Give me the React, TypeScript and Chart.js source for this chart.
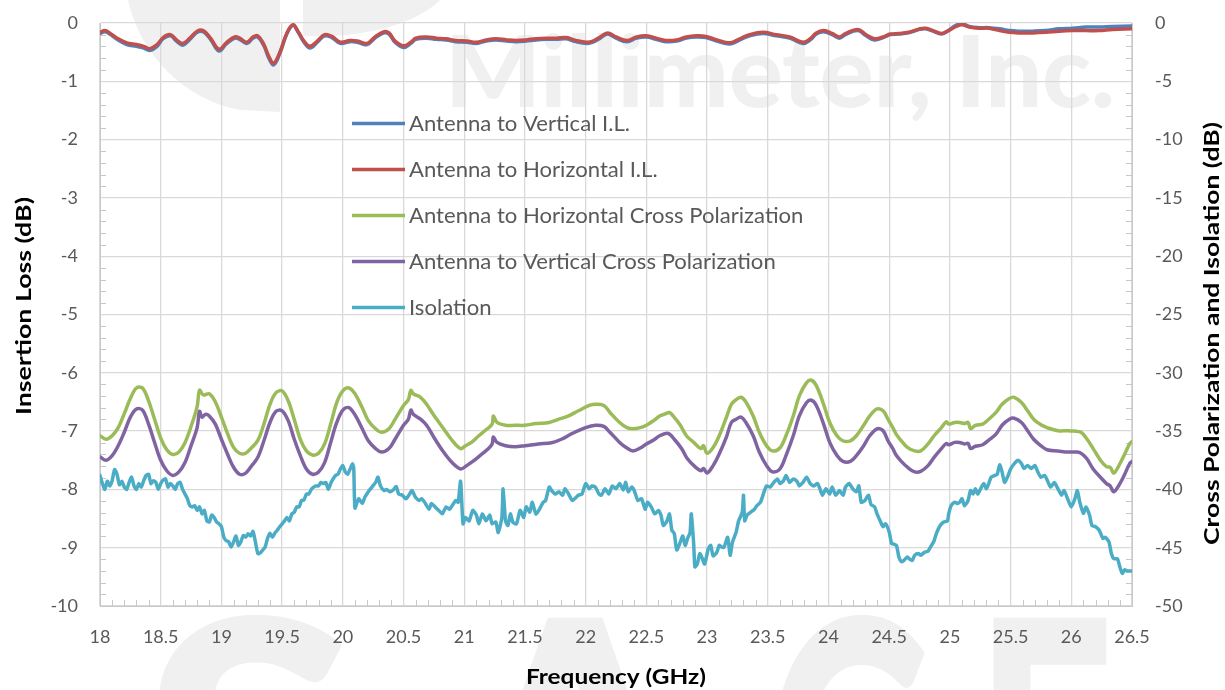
import React, { useEffect, useRef } from "react";
import { Chart, registerables } from "chart.js";

Chart.register(...registerables);

// ---------- DATA ----------
const seriesNames = [
  "Antenna to Vertical I.L.",
  "Antenna to Horizontal I.L.",
  "Antenna to Horizontal Cross Polarization",
  "Antenna to Vertical Cross Polarization",
  "Isolation",
];
const seriesColors = ["#4F81BD", "#C0504D", "#9BBB59", "#8064A2", "#4BACC6"];

// Insertion loss (left axis, dB)
const ilFreq = [
  18.0, 18.04, 18.08, 18.14, 18.22, 18.3, 18.36, 18.41, 18.47, 18.52, 18.58, 18.63, 18.68, 18.74, 18.8, 18.85, 18.91, 18.98,
  19.04, 19.11, 19.15, 19.21, 19.26, 19.3, 19.35, 19.39, 19.43, 19.48, 19.54, 19.59, 19.63, 19.68, 19.73, 19.79, 19.85, 19.91, 19.98,
  20.06, 20.12, 20.2, 20.27, 20.34, 20.38, 20.43, 20.5, 20.56, 20.6, 20.69, 20.77, 20.85, 20.93,
  21.02, 21.1, 21.18, 21.26, 21.35, 21.43, 21.51, 21.59, 21.68, 21.76, 21.84, 21.92,
  22.01, 22.06, 22.12, 22.18, 22.25, 22.34, 22.42, 22.5, 22.58, 22.66, 22.75, 22.83, 22.91, 22.99,
  23.08, 23.19, 23.27, 23.35, 23.46, 23.57, 23.68, 23.79, 23.85, 23.9, 23.96,
  24.03, 24.09, 24.14, 24.24, 24.31, 24.38, 24.45, 24.51, 24.58, 24.66, 24.75, 24.8, 24.86, 24.93, 24.98,
  25.05, 25.1, 25.16, 25.24, 25.32, 25.41, 25.49, 25.57, 25.68, 25.79, 25.9,
  26.01, 26.12, 26.23, 26.34, 26.5,
];
const ilVertical = [
  -0.18, -0.15, -0.19, -0.28, -0.37, -0.4, -0.43, -0.47, -0.4, -0.27, -0.22, -0.31, -0.38, -0.28, -0.16, -0.15, -0.28, -0.48,
  -0.36, -0.26, -0.28, -0.35, -0.26, -0.24, -0.39, -0.6, -0.72, -0.53, -0.18, -0.04, -0.15, -0.33, -0.43, -0.33, -0.22, -0.25, -0.35,
  -0.32, -0.33, -0.37, -0.25, -0.17, -0.19, -0.33, -0.42, -0.35, -0.28, -0.26, -0.28, -0.29, -0.32,
  -0.33, -0.35, -0.31, -0.29, -0.31, -0.32, -0.31, -0.29, -0.28, -0.28, -0.27, -0.32,
  -0.35, -0.33, -0.26, -0.19, -0.26, -0.32, -0.26, -0.24, -0.28, -0.32, -0.31, -0.26, -0.24, -0.25,
  -0.31, -0.36, -0.29, -0.22, -0.18, -0.22, -0.26, -0.35, -0.29, -0.19, -0.15,
  -0.2, -0.26, -0.2, -0.13, -0.22, -0.29, -0.25, -0.2, -0.19, -0.17, -0.11, -0.1, -0.14, -0.19, -0.14,
  -0.04, -0.01, -0.06, -0.08, -0.08, -0.1, -0.13, -0.14, -0.14, -0.13, -0.1,
  -0.09, -0.07, -0.07, -0.06, -0.05,
];
const ilHorizontal = [
  -0.16, -0.13, -0.17, -0.26, -0.34, -0.37, -0.4, -0.44, -0.37, -0.25, -0.2, -0.29, -0.35, -0.26, -0.14, -0.13, -0.26, -0.45,
  -0.34, -0.24, -0.26, -0.33, -0.24, -0.22, -0.37, -0.57, -0.69, -0.51, -0.17, -0.03, -0.14, -0.31, -0.4, -0.31, -0.2, -0.23, -0.33,
  -0.3, -0.31, -0.35, -0.23, -0.15, -0.17, -0.31, -0.39, -0.33, -0.26, -0.24, -0.26, -0.27, -0.3,
  -0.31, -0.33, -0.29, -0.27, -0.29, -0.3, -0.29, -0.27, -0.26, -0.26, -0.25, -0.3,
  -0.33, -0.31, -0.24, -0.17, -0.24, -0.3, -0.24, -0.22, -0.26, -0.3, -0.29, -0.24, -0.22, -0.23,
  -0.29, -0.34, -0.27, -0.2, -0.16, -0.2, -0.24, -0.33, -0.27, -0.17, -0.13,
  -0.18, -0.24, -0.18, -0.11, -0.2, -0.27, -0.24, -0.19, -0.18, -0.16, -0.1, -0.09, -0.13, -0.18, -0.14,
  -0.06, -0.03, -0.07, -0.09, -0.09, -0.13, -0.16, -0.17, -0.17, -0.16, -0.14,
  -0.13, -0.13, -0.13, -0.11, -0.1,
];

// Horizontal cross polarization (right axis, dB)
const xpolHFreq = [
  18.0, 18.05, 18.1, 18.15, 18.2, 18.25, 18.3, 18.35, 18.4, 18.45, 18.5, 18.55, 18.6, 18.65, 18.7, 18.75, 18.8, 18.82, 18.85, 18.9, 18.95,
  19.0, 19.05, 19.1, 19.15, 19.2, 19.25, 19.3, 19.35, 19.4, 19.45, 19.5, 19.55, 19.6, 19.65, 19.7, 19.75, 19.8, 19.85, 19.9, 19.95,
  20.0, 20.05, 20.1, 20.16, 20.21, 20.27, 20.32, 20.38, 20.43, 20.5, 20.54, 20.56, 20.58, 20.64, 20.69, 20.76, 20.83, 20.9, 20.97,
  21.01, 21.06, 21.12, 21.19, 21.23, 21.24, 21.27, 21.34, 21.42, 21.5, 21.59, 21.7, 21.78, 21.86, 21.94,
  22.03, 22.08, 22.15, 22.2, 22.28, 22.34, 22.39, 22.45, 22.5, 22.56, 22.61, 22.65, 22.69, 22.72, 22.78, 22.83, 22.89, 22.95, 22.97,
  23.0, 23.05, 23.1, 23.16, 23.2, 23.24, 23.28, 23.32, 23.38, 23.43, 23.49, 23.54, 23.6, 23.65, 23.71, 23.76, 23.82, 23.86, 23.9, 23.96,
  24.01, 24.07, 24.12, 24.18, 24.23, 24.29, 24.34, 24.4, 24.45, 24.49, 24.53, 24.56, 24.6, 24.65, 24.71, 24.76, 24.82, 24.87, 24.93, 24.97, 24.99,
  25.04, 25.08, 25.12, 25.15, 25.17, 25.21, 25.27, 25.32, 25.38, 25.43, 25.49, 25.53, 25.59, 25.64, 25.69, 25.75, 25.8, 25.89, 25.97,
  26.02, 26.08, 26.13, 26.18, 26.24, 26.29, 26.32, 26.35, 26.4, 26.44, 26.48, 26.5,
];
const xpolH = [
  -35.4, -35.7, -35.4, -34.7, -33.5, -32.2, -31.3, -31.3, -32.4, -34.0, -35.6, -36.6, -37.0, -36.8, -36.0, -34.6, -32.9, -31.5, -31.9, -31.8, -32.5,
  -33.8, -35.2, -36.4, -36.9, -36.9, -36.4, -35.8, -34.4, -32.7, -31.7, -31.55, -32.4, -34.0, -35.7, -36.7, -37.05, -36.9, -36.1, -34.4, -32.55,
  -31.55, -31.3, -31.8, -33.0, -34.1, -34.8, -35.1, -34.8, -34.0, -32.8, -32.3, -31.5, -31.8, -32.1, -32.7, -33.8, -34.8, -35.8, -36.5,
  -36.25, -35.97, -35.4, -34.8, -34.4, -33.7, -34.26, -34.5, -34.5, -34.5, -34.35, -34.26, -33.98, -33.7, -33.26,
  -32.8, -32.7, -32.8, -33.4, -34.26, -34.7, -34.8, -34.7, -34.5, -34.1, -33.7, -33.55, -33.4, -33.7, -34.5, -35.4, -35.97, -36.5, -36.25,
  -36.9, -36.4, -35.4, -33.8, -32.7, -32.3, -32.1, -32.5, -33.7, -35.1, -36.25, -36.7, -36.45, -35.4, -33.7, -31.98, -30.84, -30.64, -31.1, -32.7,
  -34.26, -35.4, -35.83, -35.83, -35.4, -34.5, -33.7, -33.1, -33.26, -33.98, -34.7, -35.3, -35.83, -36.4, -36.7, -36.7, -36.1, -35.4, -34.7, -34.2, -34.4,
  -34.26, -34.26, -34.35, -34.26, -34.8, -34.5, -34.4, -33.98, -33.4, -32.7, -32.2, -32.1, -32.55, -33.26, -33.98, -34.46, -34.7, -34.97, -34.97,
  -35.0, -35.1, -35.7, -36.5, -37.5, -38.05, -38.1, -38.6, -37.8, -36.97, -36.1, -35.9,
];

// Vertical cross polarization (right axis, dB)
const xpolVFreq = [
  18.0, 18.05, 18.1, 18.15, 18.2, 18.25, 18.3, 18.35, 18.4, 18.45, 18.5, 18.55, 18.6, 18.65, 18.7, 18.75, 18.8, 18.82, 18.84, 18.87, 18.9, 18.95,
  19.0, 19.05, 19.1, 19.15, 19.2, 19.25, 19.3, 19.35, 19.4, 19.45, 19.5, 19.55, 19.6, 19.65, 19.7, 19.75, 19.8, 19.85, 19.9, 19.95,
  20.0, 20.05, 20.1, 20.16, 20.21, 20.27, 20.32, 20.38, 20.43, 20.5, 20.54, 20.56, 20.58, 20.64, 20.69, 20.76, 20.83, 20.9, 20.97,
  21.02, 21.07, 21.13, 21.2, 21.23, 21.24, 21.27, 21.34, 21.42, 21.5, 21.61, 21.72, 21.8, 21.89,
  22.0, 22.08, 22.15, 22.2, 22.28, 22.34, 22.39, 22.45, 22.5, 22.56, 22.61, 22.68, 22.73, 22.79, 22.84, 22.9, 22.95, 22.97,
  23.0, 23.05, 23.1, 23.16, 23.2, 23.24, 23.28, 23.32, 23.38, 23.43, 23.49, 23.54, 23.6, 23.65, 23.71, 23.76, 23.82, 23.86, 23.9, 23.96,
  24.01, 24.07, 24.12, 24.18, 24.23, 24.29, 24.34, 24.4, 24.45, 24.49, 24.53, 24.56, 24.6, 24.65, 24.71, 24.76, 24.82, 24.87, 24.93, 24.97, 24.99,
  25.04, 25.08, 25.12, 25.15, 25.17, 25.21, 25.27, 25.32, 25.38, 25.43, 25.49, 25.53, 25.59, 25.64, 25.69, 25.75, 25.8, 25.89, 25.97,
  26.05, 26.09, 26.13, 26.18, 26.24, 26.29, 26.32, 26.35, 26.4, 26.44, 26.48, 26.5,
];
const xpolV = [
  -37.2, -37.5, -37.1, -36.25, -35.1, -33.8, -33.1, -33.2, -34.4, -36.0, -37.5, -38.4, -38.8, -38.5, -37.7, -36.25, -34.7, -33.3, -33.8, -33.55, -33.7, -34.4,
  -35.7, -36.97, -38.1, -38.7, -38.6, -37.96, -37.25, -35.83, -34.26, -33.3, -33.26, -34.1, -35.7, -37.1, -38.25, -38.7, -38.5, -37.7, -35.97, -34.26,
  -33.2, -32.98, -33.6, -34.8, -35.83, -36.5, -36.8, -36.5, -35.7, -34.5, -33.98, -33.2, -33.55, -33.98, -34.5, -35.7, -36.8, -37.7, -38.25,
  -37.96, -37.6, -37.1, -36.5, -36.1, -35.5, -35.97, -36.25, -36.34, -36.25, -36.1, -36.0, -35.7, -35.2,
  -34.7, -34.5, -34.6, -35.1, -35.97, -36.45, -36.7, -36.45, -36.1, -35.77, -35.4, -35.2, -35.7, -36.5, -37.4, -38.05, -38.4, -38.2,
  -38.6, -37.96, -36.97, -35.5, -34.26, -33.98, -33.8, -34.26, -35.4, -36.8, -37.96, -38.5, -38.25, -37.1, -35.4, -33.7, -32.55, -32.35, -32.8, -34.4,
  -35.97, -37.1, -37.6, -37.6, -37.1, -36.25, -35.4, -34.8, -34.97, -35.83, -36.5, -37.1, -37.6, -38.1, -38.5, -38.45, -37.96, -37.25, -36.5, -36.06, -36.17,
  -35.97, -35.97, -36.1, -36.06, -36.5, -36.3, -36.17, -35.77, -35.26, -34.5, -33.98, -33.9, -34.26, -34.97, -35.7, -36.25, -36.6, -36.7, -36.8,
  -36.8, -36.97, -37.4, -38.25, -38.96, -39.5, -39.7, -40.2, -39.5, -38.7, -37.8, -37.6,
];

// Isolation (right axis, dB)
const isoFreq = [
  18.0, 18.02, 18.04, 18.06, 18.08, 18.1, 18.12, 18.14, 18.16, 18.18, 18.2, 18.22, 18.24, 18.26, 18.28, 18.3, 18.32, 18.34, 18.36, 18.38,
  18.4, 18.42, 18.44, 18.46, 18.48, 18.5, 18.52, 18.54, 18.56, 18.58, 18.6, 18.62, 18.64, 18.66, 18.68, 18.7, 18.72, 18.74, 18.76, 18.78,
  18.8, 18.82, 18.84, 18.86, 18.88, 18.9, 18.92, 18.94, 18.96, 18.98, 19.0, 19.02, 19.04, 19.06, 19.08, 19.1, 19.12, 19.14, 19.16, 19.18,
  19.2, 19.22, 19.24, 19.26, 19.28, 19.3, 19.32, 19.34, 19.36, 19.38, 19.4, 19.42, 19.44, 19.46, 19.48, 19.5, 19.52, 19.54, 19.56, 19.58,
  19.6, 19.62, 19.64, 19.66, 19.68, 19.7, 19.72, 19.74, 19.76, 19.78, 19.8, 19.82, 19.84, 19.86, 19.88, 19.9, 19.92, 19.94, 19.96, 19.98,
  20.0, 20.02, 20.04, 20.06, 20.08, 20.09, 20.1, 20.13, 20.16, 20.18, 20.21, 20.24, 20.27, 20.29, 20.31, 20.34, 20.36, 20.39, 20.42, 20.44, 20.46, 20.49,
  20.52, 20.55, 20.57, 20.6, 20.63, 20.65, 20.68, 20.71, 20.73, 20.76, 20.79, 20.82, 20.85, 20.88, 20.9, 20.93, 20.95, 20.97, 20.99,
  21.01, 21.04, 21.07, 21.1, 21.12, 21.15, 21.18, 21.21, 21.23, 21.26, 21.28, 21.31, 21.32, 21.34, 21.36, 21.38, 21.4, 21.43, 21.46, 21.49,
  21.51, 21.54, 21.56, 21.59, 21.62, 21.65, 21.67, 21.7, 21.72, 21.75, 21.78, 21.81, 21.83, 21.86, 21.89, 21.92, 21.94, 21.97,
  22.0, 22.03, 22.05, 22.08, 22.11, 22.13, 22.16, 22.19, 22.22, 22.25, 22.28, 22.31, 22.33, 22.35, 22.38, 22.4, 22.43, 22.46, 22.49,
  22.51, 22.54, 22.57, 22.6, 22.62, 22.64, 22.67, 22.69, 22.71, 22.73, 22.75, 22.78, 22.8, 22.82, 22.84, 22.86, 22.87, 22.89, 22.9, 22.92, 22.94, 22.96, 22.98,
  23.01, 23.03, 23.05, 23.08, 23.1, 23.12, 23.14, 23.17, 23.19, 23.21, 23.24, 23.26, 23.29, 23.3, 23.31, 23.33, 23.36, 23.39, 23.41, 23.44, 23.47, 23.49,
  23.52, 23.55, 23.58, 23.6, 23.63, 23.65, 23.68, 23.71, 23.74, 23.76, 23.79, 23.82, 23.85, 23.88, 23.91, 23.93, 23.95, 23.98,
  24.01, 24.03, 24.06, 24.09, 24.12, 24.14, 24.17, 24.2, 24.23, 24.25, 24.27, 24.3, 24.33, 24.35, 24.38, 24.4, 24.43, 24.45, 24.47,
  24.5, 24.52, 24.54, 24.56, 24.58, 24.6, 24.62, 24.65, 24.67, 24.69, 24.71, 24.74, 24.76, 24.79, 24.82, 24.84, 24.87, 24.89, 24.92, 24.95, 24.98, 24.99,
  25.01, 25.04, 25.06, 25.08, 25.1, 25.12, 25.15, 25.17, 25.19, 25.21, 25.23, 25.26, 25.28, 25.3, 25.32, 25.34, 25.37, 25.39, 25.41, 25.43, 25.45, 25.48,
  25.5, 25.53, 25.56, 25.59, 25.61, 25.64, 25.67, 25.7, 25.72, 25.75, 25.78, 25.81, 25.83, 25.86, 25.89, 25.92, 25.94, 25.97,
  26.0, 26.03, 26.05, 26.07, 26.1, 26.12, 26.15, 26.17, 26.2, 26.23, 26.26, 26.28, 26.31, 26.33, 26.35, 26.38, 26.4, 26.42, 26.44, 26.46, 26.5,
];
const isoDb = [
  -38.8, -39.5, -40.0, -39.3, -39.7, -39.25, -38.3, -38.7, -39.6, -39.3, -39.8, -40.0, -39.4, -38.95, -39.7, -40.0, -39.5, -39.8, -39.25, -38.8,
  -38.7, -39.5, -39.25, -39.4, -40.0, -39.5, -39.2, -39.1, -39.8, -39.5, -39.7, -40.0, -39.5, -39.4, -40.0, -40.4, -40.8, -41.4, -41.5, -41.4,
  -41.8, -41.5, -42.1, -41.8, -42.7, -42.8, -42.2, -42.4, -42.8, -42.95, -43.2, -44.1, -44.4, -44.5, -44.95, -44.5, -44.0, -44.8, -44.5, -43.95,
  -44.1, -43.8, -44.0, -43.6, -44.5, -45.5, -45.45, -45.2, -44.95, -44.2, -43.75, -44.1, -43.75, -43.5, -43.2, -42.95, -42.7, -42.4, -42.7, -42.1,
  -41.95, -41.5, -41.5, -40.95, -40.9, -40.4, -40.4, -40.0, -39.8, -39.7, -39.7, -39.4, -39.5, -39.4, -40.0, -39.5, -39.1, -38.8, -38.7, -38.25,
  -37.95, -38.5, -38.7, -38.25, -37.8, -38.2, -41.6, -40.8, -41.2, -40.7, -40.2, -39.8, -39.4, -38.95, -39.7, -40.1, -40.0, -40.2, -40.0, -39.75, -40.4, -40.5,
  -40.8, -40.4, -40.1, -40.7, -40.95, -40.8, -41.2, -41.7, -41.2, -41.5, -41.8, -42.1, -41.5, -41.7, -41.4, -40.95, -41.1, -39.3, -42.95,
  -42.4, -42.7, -41.8, -42.2, -42.95, -42.1, -42.7, -42.2, -42.95, -42.8, -43.7, -42.4, -39.95, -42.7, -43.1, -42.1, -42.8, -42.95, -41.8, -42.4,
  -41.5, -41.95, -41.1, -42.1, -41.7, -41.1, -40.95, -39.8, -40.1, -40.4, -40.2, -40.5, -39.95, -40.4, -40.95, -40.7, -40.5, -40.4,
  -39.5, -39.95, -39.7, -39.8, -40.4, -40.5, -39.95, -40.4, -39.7, -39.95, -39.5, -40.05, -39.4, -40.2, -39.8, -40.1, -40.95, -40.8, -41.7,
  -41.1, -41.5, -42.1, -41.8, -42.2, -43.1, -42.7, -42.1, -43.5, -43.8, -45.2, -44.5, -44.0, -44.8, -44.2, -43.7, -42.1, -44.7, -46.65, -46.4, -45.5, -45.9, -46.4,
  -45.1, -44.8, -45.7, -45.4, -44.8, -44.95, -44.95, -44.1, -45.65, -44.5, -43.65, -42.7, -41.95, -40.5, -42.7, -42.2, -41.95, -41.7, -41.4, -41.1, -40.2, -39.7,
  -39.8, -39.4, -39.1, -39.5, -39.25, -38.8, -39.4, -39.1, -39.3, -39.7, -39.4, -38.95, -39.5, -39.7, -39.5, -39.95, -40.5, -39.95,
  -40.4, -39.8, -40.5, -40.1, -40.5, -39.8, -39.5, -39.95, -40.2, -39.7, -41.1, -40.95, -40.5, -41.3, -41.5, -42.1, -42.8, -43.2, -42.95,
  -43.65, -44.65, -44.7, -44.8, -45.8, -46.2, -46.1, -45.8, -46.0, -46.1, -45.65, -45.5, -45.65, -45.4, -45.3, -44.95, -44.4, -43.75, -43.1, -42.8, -42.7, -42.1,
  -41.4, -41.1, -41.2, -41.1, -40.8, -41.4, -40.95, -40.1, -40.4, -39.95, -40.4, -39.8, -39.5, -39.95, -39.5, -38.95, -38.8, -38.7, -37.9, -38.5, -39.4, -38.8,
  -38.25, -37.8, -37.5, -37.8, -38.2, -37.95, -38.2, -37.95, -38.4, -38.95, -38.8, -39.4, -39.8, -39.4, -39.95, -40.5, -40.1, -40.8,
  -41.5, -40.8, -40.1, -41.1, -42.05, -41.5, -42.2, -43.1, -43.2, -43.5, -44.2, -44.1, -44.5, -45.5, -45.95, -45.95, -46.65, -47.2, -46.9, -47.0, -47.0,
];

const xTitle = "Frequency (GHz)";
const yLeftTitle = "Insertion Loss (dB)";
const yRightTitle = "Cross Polarization and Isolation (dB)";
const watermarkText = "Millimeter, Inc.";
const watermarkLetters = ["S", "A", "G", "E"];

// ---------- HELPERS ----------
const pts = (fs: number[], vs: number[]) => fs.map((f, i) => ({ x: f, y: vs[i] }));

const FONT = "Lato, 'Open Sans', sans-serif";
const GRID = "#d9d9d9";
const TICK_COLOR = "#595959";
const CLEAR = "rgba(0,0,0,0)";
const WM = "#f0f0f0";

// draw text stretched along its direction to a target width
function fitText(ctx: CanvasRenderingContext2D, text: string, width: number) {
  const w = ctx.measureText(text).width;
  const s = width / w;
  ctx.scale(s, 1);
  ctx.fillText(text, 0, 0);
}

const decorPlugin = {
  id: "decor",
  beforeDraw(chart: any) {
    const ctx = chart.ctx as CanvasRenderingContext2D;
    ctx.save();
    ctx.fillStyle = "#ffffff";
    ctx.fillRect(0, 0, chart.width, chart.height);
    ctx.fillStyle = WM;
    // logo mark fragments at the top left
    ctx.beginPath();
    ctx.moveTo(128, 0);
    ctx.bezierCurveTo(140, 55, 185, 100, 240, 110);
    ctx.lineTo(280, 112);
    ctx.lineTo(280, 0);
    ctx.closePath();
    ctx.fill();
    ctx.beginPath();
    ctx.moveTo(303, 0);
    ctx.lineTo(440, 0);
    ctx.bezierCurveTo(420, 20, 380, 34, 330, 36);
    ctx.lineTo(303, 36);
    ctx.closePath();
    ctx.fill();
    // big company name
    ctx.font = `900 100px ${FONT}`;
    ctx.textBaseline = "alphabetic";
    ctx.textAlign = "left";
    ctx.save();
    ctx.translate(445, 107);
    fitText(ctx, watermarkText, 670);
    ctx.restore();
    // tops of large logo letters at the bottom
    ctx.font = `900 400px ${FONT}`;
    const letterX = [140, 450, 765, 975];
    const letterW = [220, 250, 170, 140];
    watermarkLetters.forEach((ch, i) => {
      ctx.save();
      ctx.translate(letterX[i], 908);
      fitText(ctx, ch, letterW[i]);
      ctx.restore();
    });
    ctx.restore();
  },
  beforeDatasetsDraw(chart: any) {
    const ctx = chart.ctx as CanvasRenderingContext2D;
    const { left, right, bottom } = chart.chartArea;
    const xs = chart.scales.x;
    const yl = chart.scales.y;
    ctx.save();
    ctx.strokeStyle = "#c8c8c8";
    ctx.lineWidth = 1;
    ctx.beginPath();
    for (let i = 0; i <= 50; i++) {
      if (i % 5 === 0) continue;
      const y = Math.round(yl.getPixelForValue(-i * 0.2)) + 0.5;
      ctx.moveTo(left, y);
      ctx.lineTo(left + 6, y);
      ctx.moveTo(right, y);
      ctx.lineTo(right - 6, y);
    }
    for (let i = 0; i <= 85; i++) {
      if (i % 5 === 0) continue;
      const x = Math.round(xs.getPixelForValue(18 + i * 0.1)) + 0.5;
      ctx.moveTo(x, bottom);
      ctx.lineTo(x, bottom - 6);
    }
    ctx.stroke();
    ctx.restore();
  },
  afterDraw(chart: any) {
    const ctx = chart.ctx as CanvasRenderingContext2D;
    ctx.save();
    // legend
    const lx = 352;
    const ly0 = 123.5;
    const dy = 46;
    ctx.font = `20.5px ${FONT}`;
    ctx.textBaseline = "alphabetic";
    ctx.textAlign = "left";
    const legendScale = 221 / ctx.measureText(seriesNames[0]).width;
    seriesNames.forEach((name, i) => {
      const y = ly0 + i * dy;
      ctx.strokeStyle = seriesColors[i];
      ctx.lineWidth = 3.5;
      ctx.lineCap = "butt";
      ctx.beginPath();
      ctx.moveTo(lx, y);
      ctx.lineTo(lx + 53, y);
      ctx.stroke();
      ctx.fillStyle = TICK_COLOR;
      ctx.save();
      ctx.translate(lx + 57, y + 7.3);
      ctx.scale(legendScale, 1);
      ctx.fillText(name, 0, 0);
      ctx.restore();
    });
    // axis titles
    ctx.fillStyle = "#000000";
    ctx.font = `bold 21px ${FONT}`;
    ctx.textAlign = "left";
    ctx.textBaseline = "middle";
    ctx.save();
    ctx.translate(616 - 90, 677);
    fitText(ctx, xTitle, 180);
    ctx.restore();
    ctx.save();
    ctx.translate(24, 306 + 109);
    ctx.rotate(-Math.PI / 2);
    fitText(ctx, yLeftTitle, 218);
    ctx.restore();
    ctx.save();
    ctx.translate(1212, 334 + 211);
    ctx.rotate(-Math.PI / 2);
    fitText(ctx, yRightTitle, 423);
    ctx.restore();
    ctx.restore();
  },
};

export default function App() {
  const canvasRef = useRef<HTMLCanvasElement | null>(null);

  useEffect(() => {
    if (!canvasRef.current) return;
    const common = { pointRadius: 0, borderWidth: 3.5, fill: false, borderCapStyle: "round", borderJoinStyle: "round" };
    const tickFont = { family: FONT, size: 18 };
    const chart = new Chart(canvasRef.current, {
      type: "line",
      data: {
        datasets: [
          { ...common, label: seriesNames[0], data: pts(ilFreq, ilVertical), borderColor: seriesColors[0], yAxisID: "y", tension: 0.4, order: 5 },
          { ...common, label: seriesNames[1], data: pts(ilFreq, ilHorizontal), borderColor: seriesColors[1], yAxisID: "y", tension: 0.4, order: 4 },
          { ...common, label: seriesNames[2], data: pts(xpolHFreq, xpolH), borderColor: seriesColors[2], yAxisID: "y2", tension: 0.35, order: 3 },
          { ...common, label: seriesNames[3], data: pts(xpolVFreq, xpolV), borderColor: seriesColors[3], yAxisID: "y2", tension: 0.35, order: 2 },
          { ...common, label: seriesNames[4], data: pts(isoFreq, isoDb), borderColor: seriesColors[4], yAxisID: "y2", tension: 0.2, order: 1 },
        ] as any,
      },
      options: {
        responsive: false,
        animation: false,
        events: [],
        layout: { padding: { top: 23, left: 0, right: 0, bottom: 0 } },
        plugins: { legend: { display: false }, tooltip: { enabled: false }, title: { display: false } },
        scales: {
          x: {
            type: "linear",
            min: 18,
            max: 26.5,
            afterFit: (s: any) => {
              s.height = 84;
            },
            ticks: {
              stepSize: 0.5,
              color: TICK_COLOR,
              font: tickFont,
              padding: 0,
              maxRotation: 0,
              autoSkip: false,
              callback: (v: any) => String(Math.round(Number(v) * 10) / 10),
            },
            grid: { color: GRID, lineWidth: 1.3, drawTicks: true, tickLength: 20, tickColor: CLEAR },
            border: { color: "#c8c8c8", width: 1 },
          },
          y: {
            type: "linear",
            position: "left",
            min: -10,
            max: 0,
            afterFit: (s: any) => {
              s.width = 100;
            },
            ticks: { stepSize: 1, color: TICK_COLOR, font: tickFont, padding: 0 },
            grid: { color: GRID, lineWidth: 1.3, drawTicks: true, tickLength: 22, tickColor: CLEAR },
            border: { color: "#c8c8c8", width: 1 },
          },
          y2: {
            type: "linear",
            position: "right",
            min: -50,
            max: 0,
            afterFit: (s: any) => {
              s.width = 93;
            },
            ticks: { stepSize: 5, color: TICK_COLOR, font: tickFont, padding: 0 },
            grid: { drawOnChartArea: false, drawTicks: true, tickLength: 23, tickColor: CLEAR },
            border: { color: "#c8c8c8", width: 1 },
          },
        },
      } as any,
      plugins: [decorPlugin as any],
    });
    return () => chart.destroy();
  }, []);

  return (
    <div style={{ position: "fixed", left: 0, top: 0, width: 1225, height: 690, background: "#fff" }}>
      <canvas ref={canvasRef} width={1225} height={690} style={{ display: "block", width: 1225, height: 690 }} />
    </div>
  );
}
